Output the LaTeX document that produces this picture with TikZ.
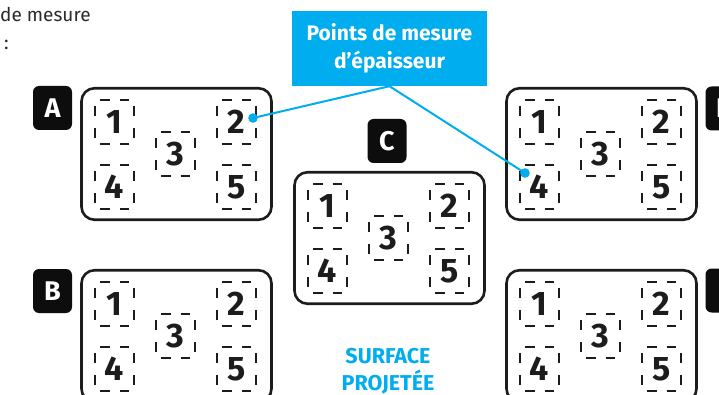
\documentclass[tikz,border=0pt]{standalone}
\usepackage{fontspec}
\setmainfont{Fira Sans}
\definecolor{ink}{HTML}{1C1C1C}
\definecolor{tagfill}{HTML}{0D0D0D}
\definecolor{cyanb}{HTML}{00ADEE}
\definecolor{graytxt}{HTML}{2A2A2A}
\tikzset{
  panel/.style={draw=ink, line width=2.6pt, rounded corners=13pt, minimum width=190pt, minimum height=131.5pt, inner sep=0pt},
  digit/.style={text=ink, inner sep=0pt, font=\fontsize{34}{34}\selectfont\bfseries},
  dashq/.style={draw=ink, line width=2.2pt},
  tag/.style={fill=tagfill, rounded corners=6pt, minimum width=39pt, minimum height=44pt, inner sep=0pt, text=white, font=\fontsize{27}{27}\selectfont\bfseries},
  callout/.style={fill=cyanb, minimum width=195pt, minimum height=75pt, inner sep=0pt, text=white, align=center, font=\fontsize{21}{28}\selectfont\bfseries},
  blueline/.style={draw=cyanb, line width=2pt},
  bluedot/.style={fill=cyanb},
}
\newcommand{\dsq}[4]{%
  \node[digit] (#1) at (#2+20.5,#3+23) {#4};
  \draw[dashq] (#2+6,#3+1) -- ++(9.5,0) (#2+25.5,#3+1) -- ++(9.5,0)
    (#2+6,#3+45) -- ++(9.5,0) (#2+25.5,#3+45) -- ++(9.5,0)
    (#2+1,#3+7) -- ++(0,10) (#2+1,#3+29) -- ++(0,10)
    (#2+40,#3+7) -- ++(0,10) (#2+40,#3+29) -- ++(0,10);}
\newcommand{\pnl}[3]{%
  \node[panel] (#1) at (#2+96.5,#3+67) {};
  \dsq{#11}{#2+14}{#3+12}{1}
  \dsq{#12}{#2+136}{#3+12}{2}
  \dsq{#13}{#2+75}{#3+44}{3}
  \dsq{#14}{#2+14}{#3+77}{4}
  \dsq{#15}{#2+136}{#3+77}{5}}
\begin{document}
\begin{tikzpicture}[x=1pt,y=-1pt]
\useasboundingbox (0,0) rectangle (719,395);
\clip (0,0) rectangle (719,395);
\fill[white] (0,0) rectangle (719,395);
% top-left text fragments
\node[anchor=base west, inner sep=0pt, text=graytxt, font=\fontsize{19}{19}\selectfont] (t1) at (0,22) {de mesure};
\node[anchor=base west, inner sep=0pt, text=graytxt, font=\fontsize{19}{19}\selectfont] (t2) at (4,50) {:};
% panels
\pnl{pA}{80}{87}
\pnl{pB}{80}{269}
\pnl{pC}{293}{171}
\pnl{pD}{505}{87}
\pnl{pE}{505}{269}
% tags
\node[tag] (lA) at (52.5,108) {A};
\node[tag] (lB) at (52.5,291) {B};
\node[tag] (lC) at (387,141) {C};
\node[tag] (lD) at (725,108.5) {D};
\node[tag] (lE) at (725,290.5) {E};
% caption
\node[anchor=north, inner sep=0pt, text=cyanb, align=center, font=\fontsize{21.5}{27}\selectfont\bfseries] (cap) at (388,348) {SURFACE\\PROJETÉE};
% callout
\node[callout] (co) at (389.5,48.5) {Points de mesure\\d’épaisseur};
\coordinate (dA) at (253,118);
\coordinate (dD) at (525,173);
\draw[blueline] (co.south) -- (dA);
\draw[blueline] (co.south) -- (dD);
\fill[bluedot] (dA) circle (4.8pt);
\fill[bluedot] (dD) circle (4.8pt);
\end{tikzpicture}
\end{document}
